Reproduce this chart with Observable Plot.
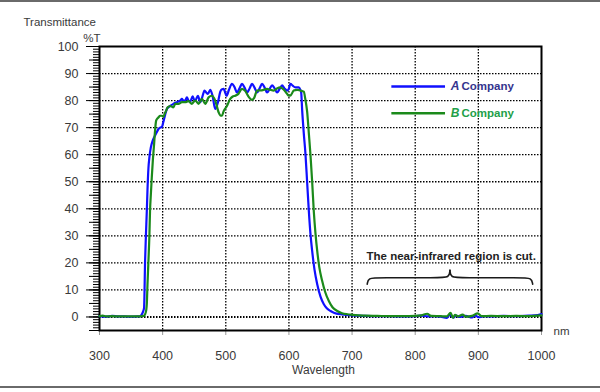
<!DOCTYPE html>
<html>
<head>
<meta charset="utf-8">
<script src="https://cdn.jsdelivr.net/npm/d3@7"></script>
<script src="https://cdn.jsdelivr.net/npm/@observablehq/plot@0.6"></script>
<style>
  html, body { margin: 0; padding: 0; background: #fff; }
  #wrap { position: relative; width: 600px; height: 392px; overflow: hidden; }
  .edge { position: absolute; left: 0; width: 600px; height: 2px; background: #6a6a6a; }
</style>
</head>
<body>
<div id="wrap">
  <div class="edge" style="top:0"></div>
  <div class="edge" style="top:386px"></div>
  <div id="chart"></div>
</div>
<script>
// ---- Data ----
const wavelengthA = [300,310,320,330,340,350,360,365,367,369,370.6,372.2,373.5,374.9,376,377.5,379,381.3,384,386.5,390,393.4,396,398.7,401,404,406.7,409,412,417,422.5,427.8,430.5,433,435.7,438.4,441,443.7,447.4,449.5,451.6,455.9,459.5,463,466.3,469,471.7,475.4,479,483.3,487.6,491.3,494,496.5,501.4,505,509.8,513.8,517.8,521.7,525.7,529.7,533.7,537.7,541.6,545.5,549.5,553.5,557.5,561.5,565.4,569.4,573.3,577.3,581.3,585.3,589.2,593,597.1,600,602.4,606,610.3,615.6,618,619.4,621,623.5,626.2,628.8,631.5,634,636.8,640.5,644.8,650,655.3,660,665.9,672,681.7,690,700,710,720,740,760,780,800,810,820,830,840,850,855,860,865,870,880,890,895,900,910,920,940,960,980,990,1000];
const transmittanceA = [0.3,0.1,0.4,0.2,0.2,0.1,0.2,0.3,1.0,2.0,3.4,20.7,30,39,47,55,59,62.7,65,66.4,68,69.5,70,70.2,72,74.8,76.9,77.5,78,78.8,79.4,80,80.6,80,80,81.2,80,79.6,81.6,80.5,80,81.8,79.4,81.5,83.7,83,82.5,84,81.8,76.9,79.4,83.3,84.2,84.3,81.8,84,86.2,85,83,84.5,86.2,84.8,83,84.5,86.2,84.8,83,84.5,86.2,84.8,83,84.3,85.6,84.5,83,84.3,85.6,84.5,83.7,84.5,86.2,85.5,84.9,84.9,84,83,76.3,68,60.2,50,39.3,31,24.4,17.5,12.1,7.5,4.7,3.2,2.2,1.5,1.0,0.8,0.6,0.5,0.4,0.3,0.3,0.2,0.3,0.5,0.2,0.3,0.1,-0.3,0.8,-0.2,0.5,0.0,0.4,-0.2,0.6,-0.1,0.3,0.2,0.4,0.3,0.5,0.6,1.1];

const wavelengthB = [300,305,310,320,330,340,350,360,370,372.2,374,374.9,376,377.5,379,380,381.5,382.8,384.5,386.5,388,389.7,391,393.4,396,398.7,401.3,403,405.6,408,412,417,420,425,430.5,435.7,441,446.3,451.6,456.9,462.2,467.5,472.8,478,483.3,488.6,491.3,494,496.5,501.8,507,511,515,520,525.7,531,536,541.6,545,549.5,557,565.4,570,575.9,581,586.5,592,597,600,603,607.6,613,618.3,621,623.5,626,628.8,631.5,634.1,636.8,639.4,642,644.8,648,652.7,657,663.2,669,676.5,684,692.4,700,710,720,740,760,780,800,810,819,825,840,850,856,860,863,868,875,880,890,899,905,920,940,960,980,1000];
const transmittanceB = [0.3,0.5,0.2,0.3,0.2,0.2,0.2,0.2,0.4,1.0,2.5,4.7,12,20.7,30,39,46,51.6,58,64,69,72.6,73.2,73.8,74.4,74.4,74,75,76.3,77.5,78,77.5,78.8,78.8,79.4,79.4,79.8,78.8,80,78.8,80.6,78.8,81.2,81.8,80,75.7,74.5,74.4,76,78,80.6,81.5,81.8,82.5,84.3,83.5,81.5,80.3,81,83.7,83.8,84.3,84,83.7,84.5,84.9,84,82.5,81.8,82,83.7,84,83.7,83.5,83.3,80.5,76,68,60,50,39,31,24.4,18.5,13.3,9.5,5.9,3.6,2.2,1.4,1.0,0.8,0.6,0.5,0.4,0.3,0.3,0.4,0.6,1.2,0.4,0.3,0.2,1.5,-0.3,0.8,0.2,0.9,0.1,0.4,1.3,0.3,0.4,0.3,0.4,0.3,0.6];

const seriesNames = ["A", "B"];
const seriesSuffix = "Company";
const xTicks = [300, 400, 500, 600, 700, 800, 900, 1000];
const yTicks = [0, 10, 20, 30, 40, 50, 60, 70, 80, 90, 100];
const annotationText = "The near-infrared region is cut.";

// ---- Styles / layout ----
const lineColors = ["#1010ff", "#1b8a1b"];
const labelColors = ["#34348e", "#22a048"];
const legendLayout = { x1: 763, x2: 848, xLetter: 856.3, xWord: 873.3, y: [85.2, 75.3] };
const braceSpec = { left: 724, mid: 855, right: 986, base: 12.1, bar: 14.5, tip: 17.3 };
const annotationAt = { x: 857, y: 22.6 };

const dataA = wavelengthA.map((w, i) => ({ w, t: transmittanceA[i] }));
const dataB = wavelengthB.map((w, i) => ({ w, t: transmittanceB[i] }));

const b = braceSpec;
const brace = [
  { s: "l", x: b.left, y: b.base },
  { s: "l", x: b.left + 1.5, y: b.bar },
  { s: "l", x: b.left + 18, y: b.bar },
  { s: "l", x: b.mid - 18, y: b.bar },
  { s: "l", x: b.mid - 1, y: b.bar },
  { s: "l", x: b.mid, y: b.tip },
  { s: "r", x: b.mid, y: b.tip },
  { s: "r", x: b.mid + 1, y: b.bar },
  { s: "r", x: b.mid + 18, y: b.bar },
  { s: "r", x: b.right - 18, y: b.bar },
  { s: "r", x: b.right - 1.5, y: b.bar },
  { s: "r", x: b.right, y: b.base }
];

const dotted = { stroke: "#000", strokeWidth: 1.3, strokeDasharray: "1.5,1.5" };
const blank = () => "";

const chart = Plot.plot({
  width: 600,
  height: 392,
  marginLeft: 99,
  marginRight: 59,
  marginTop: 46,
  marginBottom: 62,
  x: { domain: [300, 1000] },
  y: { domain: [-5, 100] },
  style: { fontFamily: "'Liberation Sans', Arial, sans-serif", fontSize: "12px", color: "#3a3a3a", background: "transparent" },
  marks: [
    // grid
    Plot.ruleY(yTicks.filter(v => v > 0 && v < 100), dotted),
    Plot.ruleY([0], { ...dotted, strokeWidth: 2 }),
    Plot.ruleX(xTicks.filter(v => v > 300 && v < 1000), dotted),
    // axes
    Plot.axisY({ ticks: d3.range(-5, 101, 1), tickSize: 6, tickFormat: blank, stroke: "#000", label: null }),
    Plot.axisY({ ticks: d3.range(-5, 101, 5), tickSize: 10, tickFormat: blank, stroke: "#000", label: null }),
    Plot.axisY({ ticks: yTicks, tickSize: 13, tickPadding: 8, stroke: "#000", fill: "#3a3a3a", fontSize: 12.5, label: null }),
    Plot.axisX({ ticks: xTicks, tickFormat: d => String(d), tickSize: 5, tickPadding: 16, stroke: "#999", fill: "#3a3a3a", fontSize: 12.5, label: null }),
    Plot.frame({ stroke: "#000", strokeWidth: 2 }),
    // series
    Plot.line(dataA, { x: "w", y: "t", stroke: lineColors[0], strokeWidth: 2.2, curve: "monotone-x" }),
    Plot.line(dataB, { x: "w", y: "t", stroke: lineColors[1], strokeWidth: 2.2, curve: "monotone-x" }),
    // legend
    ...seriesNames.flatMap((name, i) => [
      Plot.ruleY([legendLayout.y[i]], { x1: legendLayout.x1, x2: legendLayout.x2, stroke: lineColors[i], strokeWidth: 2.4 }),
      Plot.text([name], { x: legendLayout.xLetter, y: legendLayout.y[i], text: d => d, textAnchor: "start", fontWeight: "bold", fontStyle: "italic", fontSize: 12, fill: labelColors[i] }),
      Plot.text([seriesSuffix], { x: legendLayout.xWord, y: legendLayout.y[i], text: d => d, textAnchor: "start", fontWeight: "bold", fontSize: 11.5, fill: labelColors[i] })
    ]),
    // annotation
    Plot.text([annotationText], { x: annotationAt.x, y: annotationAt.y, text: d => d, fontWeight: "bold", fontSize: 11.5, fill: "#222" }),
    Plot.line(brace, { x: "x", y: "y", z: "s", curve: "basis", stroke: "#1a1a1a", strokeWidth: 1.6 }),
    // titles
    Plot.text(["Transmittance"], { frameAnchor: "top-left", dx: -76, dy: -29, textAnchor: "start", fontSize: 11.5, fill: "#3a3a3a" }),
    Plot.text(["%T"], { frameAnchor: "top-left", dx: 1, dy: -13, textAnchor: "end", fontSize: 11.5, fill: "#3a3a3a" }),
    Plot.text(["nm"], { frameAnchor: "bottom-right", dx: 12, dy: 4, textAnchor: "start", fontSize: 11.5, fill: "#3a3a3a" }),
    Plot.text(["Wavelength"], { frameAnchor: "bottom", dx: 3, dy: 43, fontSize: 12, fill: "#3a3a3a" })
  ]
});
document.getElementById("chart").appendChild(chart);
</script>
</body>
</html>
